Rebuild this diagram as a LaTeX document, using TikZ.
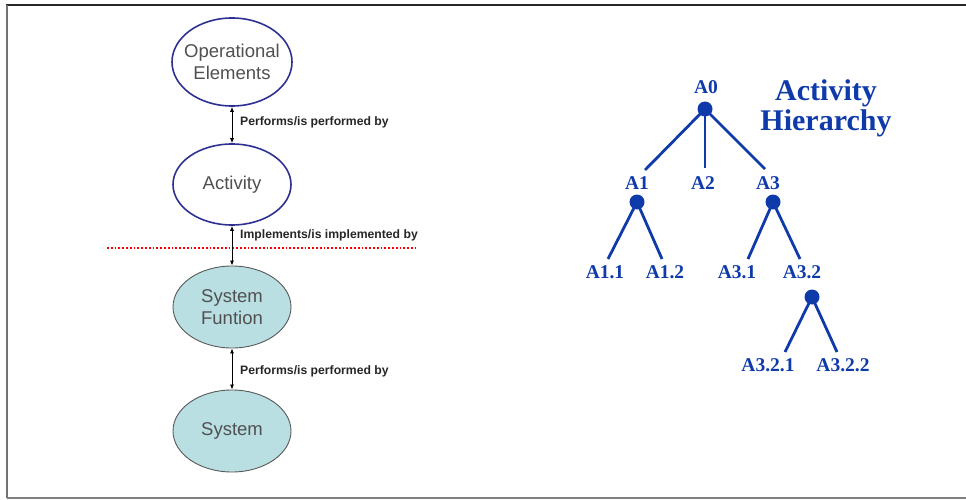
\documentclass[tikz,border=0pt]{standalone}
\usepackage{fontspec}
\setmainfont{Liberation Sans}
\newfontfamily\treefont{Liberation Serif}
\usetikzlibrary{shapes.geometric,arrows.meta}
\definecolor{ellblue}{HTML}{2E3192}
\definecolor{tealfill}{HTML}{B9DFE3}
\definecolor{treeblue}{HTML}{0F3BAA}
\definecolor{txtgray}{HTML}{505050}
\tikzset{
  ellbase/.style={ellipse, inner sep=0pt, align=center, text=txtgray, font=\fontsize{18.5}{22}\selectfont},
  opell/.style={ellbase, draw=ellblue, line width=1.6pt, fill=white, minimum width=118pt, minimum height=81pt},
  sysell/.style={ellbase, draw=black!65, line width=0.9pt, fill=tealfill, minimum width=118pt, minimum height=82pt},
  relarrow/.style={{Latex[length=5pt,width=4pt]}-{Latex[length=5pt,width=4pt]}, line width=0.8pt, black},
  rellabel/.style={anchor=west, inner sep=0pt, font=\bfseries\fontsize{12.2}{14}\selectfont, text=black!85},
  tdot/.style={circle, fill=treeblue, minimum size=15pt, inner sep=0pt},
  tlabel/.style={inner sep=3pt, text=treeblue, font=\treefont\bfseries\fontsize{19.5}{21}\selectfont},
  tline/.style={draw=treeblue, line width=2.8pt},
}
\begin{document}
\begin{tikzpicture}[x=1pt,y=-1pt]
\useasboundingbox (0,0) rectangle (966,500);
% frame
\draw[line width=1.5pt, black!85] (6,5) -- (966,5);
\draw[line width=1.5pt, black!55] (7,5) -- (7,498);
\draw[line width=1.5pt, black!50] (7,498) -- (966,498);

% left ontology
\node[opell, inner xsep=-9pt, minimum width=120pt, minimum height=88pt] (oe) at (232,62) {Operational\\Elements};
\node[opell] (act) at (232,184.5) {Activity};
\node[sysell] (sf) at (232,307) {System\\Funtion};
\node[sysell] (sys) at (232,431) {System};

\draw[red, line width=1.8pt, dotted] (107,248) -- (415,248);

\draw[relarrow] (oe) -- (act);
\draw[relarrow] (act) -- (sf);
\draw[relarrow] (sf) -- (sys);

\node[rellabel] (l1) at (240,122) {Performs/is performed by};
\node[rellabel] (l2) at (240,235) {Implements/is implemented by};
\node[rellabel] (l3) at (240,371) {Performs/is performed by};

% activity hierarchy
\node[text=treeblue, align=center, font=\treefont\bfseries\fontsize{30}{30}\selectfont] (title) at (826,108) {Activity\\Hierarchy};

\node[tlabel] (a0) at (706,87) {A0};
\node[tdot] (d0) at (705,109) {};
\node[tlabel] (a1) at (637,183) {A1};
\node[tlabel] (a2) at (703,183) {A2};
\node[tlabel] (a3) at (768,183) {A3};
\node[tdot] (d1) at (637,202) {};
\node[tdot] (d3) at (773,202) {};
\node[tlabel] (a11) at (605,272) {A1.1};
\node[tlabel] (a12) at (665,272) {A1.2};
\node[tlabel] (a31) at (737,272) {A3.1};
\node[tlabel] (a32) at (802,272) {A3.2};
\node[tdot] (d32) at (812,297) {};
\node[tlabel] (a321) at (768,365) {A3.2.1};
\node[tlabel] (a322) at (843,365) {A3.2.2};

\coordinate (e01) at (645,170);
\coordinate (e02) at (705,168);
\coordinate (e03) at (765,169);
\coordinate (e11) at (608,259);
\coordinate (e12) at (662,259);
\coordinate (e31) at (748,259);
\coordinate (e32) at (800,259);
\coordinate (e321) at (785,352);
\coordinate (e322) at (837,352);

\draw[tline] (d0.center) -- (e01);
\draw[tline] (d0.center) -- (e02);
\draw[tline] (d0.center) -- (e03);
\draw[tline] (d1.center) -- (e11);
\draw[tline] (d1.center) -- (e12);
\draw[tline] (d3.center) -- (e31);
\draw[tline] (d3.center) -- (e32);
\draw[tline] (d32.center) -- (e321);
\draw[tline] (d32.center) -- (e322);
\end{tikzpicture}
\end{document}
